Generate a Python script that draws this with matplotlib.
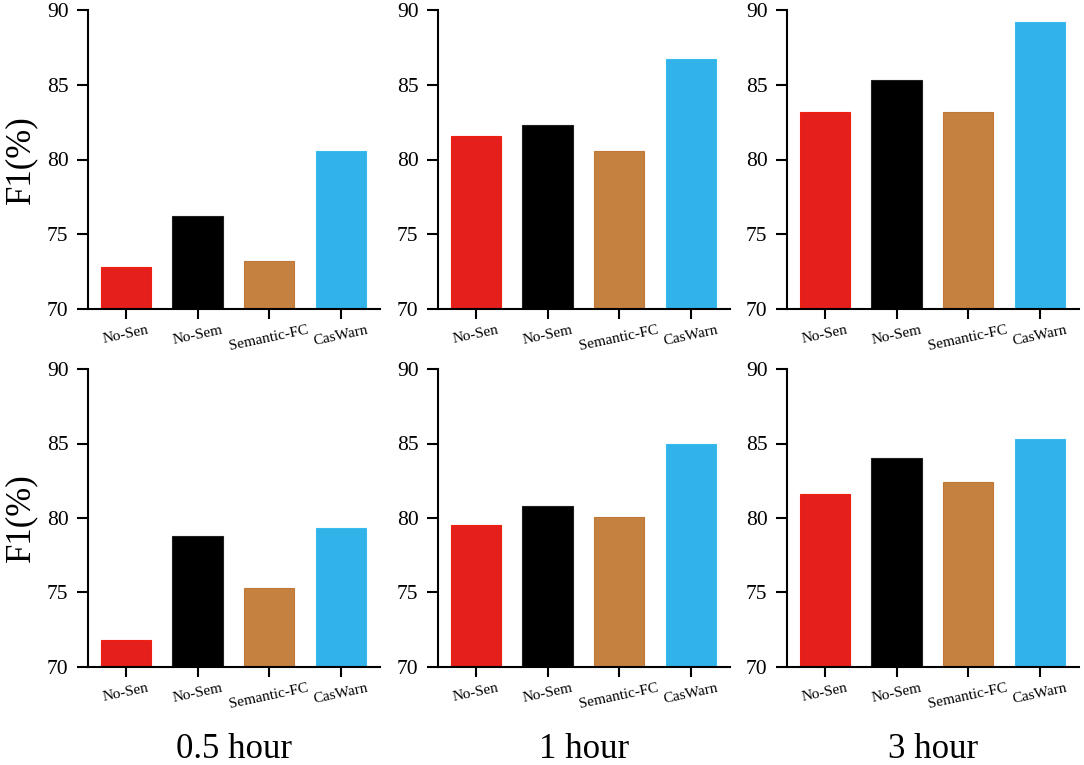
import matplotlib
matplotlib.use('Agg')
import matplotlib.pyplot as plt
import numpy as np

plt.rcParams['font.family'] = ['Liberation Serif', 'DejaVu Serif']

# Данные
methods = ['No-Sen', 'No-Sem', 'Semantic-FC', 'CasWarn']
periods = ['0.5 hour', '1 hour', '3 hour']
colors = ['#E5201C', '#000000', '#C58140', '#31B2E8']
edge_colors = ['#F02010', '#202020', '#C07838', '#38BCF0']

top_row = [
    [72.8, 76.2, 73.2, 80.6],
    [81.6, 82.3, 80.6, 86.7],
    [83.2, 85.3, 83.2, 89.2],
]
bottom_row = [
    [71.8, 78.8, 75.3, 79.3],
    [79.5, 80.8, 80.1, 85.0],
    [81.6, 84.0, 82.4, 85.3],
]

W, H = 1084, 765
fig = plt.figure(figsize=(W / 100, H / 100), dpi=100)

lefts = [88, 438, 787]
ax_w = 292
rows = [(10, 309), (369, 667)]


def draw_panel(ax, values):
    x = np.arange(len(methods))
    ax.bar(x, values, width=0.7, color=colors, edgecolor=edge_colors, linewidth=0.8)
    ax.set_ylim(70, 90)
    ax.set_yticks([70, 75, 80, 85, 90])
    ax.set_xlim(-0.53, 3.55)
    ax.set_xticks(x)
    ax.set_xticklabels(methods, rotation=12, fontsize=11, ha='center')
    ax.tick_params(axis='y', labelsize=15.5, length=8, width=1.5, direction='out', pad=6)
    ax.tick_params(axis='x', length=7.5, width=1.5, direction='out', pad=3)
    for s in ['top', 'right']:
        ax.spines[s].set_visible(False)
    for s in ['left', 'bottom']:
        ax.spines[s].set_linewidth(1.5)


for r, (data, (ytop, ybot)) in enumerate(zip([top_row, bottom_row], rows)):
    for c in range(3):
        ax = fig.add_axes([lefts[c] / W, 1 - ybot / H, ax_w / W, (ybot - ytop) / H])
        draw_panel(ax, data[c])
        if c == 0:
            ax.set_ylabel('F1(%)', fontsize=25)
            ax.yaxis.set_label_coords(-0.172, 0.5)

for c in range(3):
    fig.text((lefts[c] + ax_w / 2) / W, 1 - 749 / H, periods[c],
             fontsize=25, ha='center', va='center')

fig.savefig('out.png', dpi=100)
